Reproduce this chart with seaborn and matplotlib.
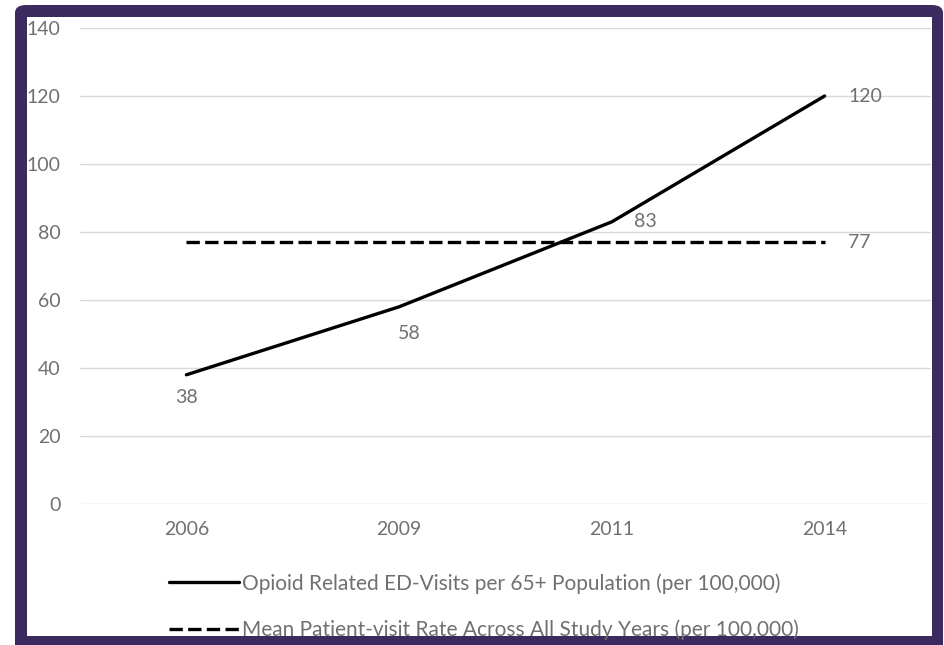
import pandas as pd
import numpy as np
import matplotlib.pyplot as plt
import seaborn as sns
from matplotlib.patches import FancyBboxPatch, Rectangle
from matplotlib.lines import Line2D

# data
years = ["2006", "2009", "2011", "2014"]
opioid_visits = [38, 58, 83, 120]
mean_rate = [77, 77, 77, 77]
y_ticks = [0, 20, 40, 60, 80, 100, 120, 140]
series_names = ["Opioid Related ED-Visits per 65+ Population (per 100,000)",
                "Mean Patient-visit Rate Across All Study Years (per 100,000)"]

df = pd.DataFrame({"Year": years, "Opioid": opioid_visits, "Mean": mean_rate})

sns.set_theme(style="white")
plt.rcParams['font.family'] = ['Lato', 'DejaVu Sans']

grey = "#707070"
purple = "#3b2a5e"
dash = (0, (4, 1.6))

W, H = 944, 645
fig = plt.figure(figsize=(W / 100, H / 100), dpi=100, facecolor="white")

# purple frame with a white inner panel
frame = FancyBboxPatch((15 / W, -20 / H), 928 / W, 660 / H,
                       boxstyle="round,pad=0,rounding_size=0.012",
                       transform=fig.transFigure, facecolor=purple,
                       edgecolor="none", zorder=-2)
fig.patches.append(frame)
inner = Rectangle((27 / W, 9 / H), 905 / W, 619 / H,
                  transform=fig.transFigure, facecolor="white",
                  edgecolor="none", zorder=-1)
fig.patches.append(inner)

ax = fig.add_axes([80 / W, (H - 504) / H, 851 / W, 476 / H])
ax.set_facecolor("none")

sns.lineplot(data=df, x="Year", y="Opioid", ax=ax, color="black",
             linewidth=2.4, sort=False)
sns.lineplot(data=df, x="Year", y="Mean", ax=ax, color="black",
             linewidth=2.4, sort=False, linestyle=dash)

ax.set_xlim(-0.5, 3.5)
ax.set_ylim(0, 140)
ax.set_yticks(y_ticks)
ax.grid(axis="y", color="#d9d9d9", linewidth=1)
ax.set_axisbelow(True)
for s in ax.spines.values():
    s.set_visible(False)
ax.tick_params(axis="both", length=0, labelsize=14, labelcolor=grey)
ax.tick_params(axis="y", pad=14)
ax.tick_params(axis="x", pad=12)
ax.set_xlabel("")
ax.set_ylabel("")

# data labels
lab_kw = dict(textcoords="offset points", fontsize=14, color=grey)
ax.annotate(str(opioid_visits[0]), (0, opioid_visits[0]), xytext=(0, -16),
            ha="center", va="center", **lab_kw)
ax.annotate(str(opioid_visits[1]), (1, opioid_visits[1]), xytext=(7, -19),
            ha="center", va="center", **lab_kw)
ax.annotate(str(opioid_visits[2]), (2, opioid_visits[2]), xytext=(16, 0),
            ha="left", va="center", **lab_kw)
ax.annotate(str(opioid_visits[3]), (3, opioid_visits[3]), xytext=(17, 0),
            ha="left", va="center", **lab_kw)
ax.annotate(str(mean_rate[3]), (3, mean_rate[3]), xytext=(17, 0),
            ha="left", va="center", **lab_kw)

handles = [Line2D([], [], color="black", linewidth=2.4),
           Line2D([], [], color="black", linewidth=2.4, linestyle=dash)]
leg = fig.legend(handles, series_names, loc="upper left",
                 bbox_to_anchor=(169 / W, (H - 573) / H), frameon=False,
                 fontsize=15, handlelength=3.35, handletextpad=0.15,
                 labelspacing=1.25, borderaxespad=0, borderpad=0)
for t in leg.get_texts():
    t.set_color(grey)

fig.savefig("out.png", dpi=100, facecolor="white")
